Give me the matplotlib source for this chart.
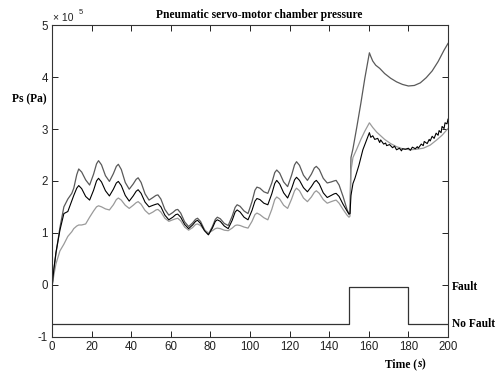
import matplotlib
matplotlib.use("Agg")
import matplotlib.pyplot as plt

# ---- data (pressure in units of 1e5 Pa) ----
t_pre = [0, 1, 2, 4, 6, 8, 10, 11, 12.5, 13.5, 15, 17,
         19, 21, 22.5, 23.5, 25, 27,
         29, 31, 32.5, 33.5, 35, 37,
         39, 41, 42.5, 43.5, 45, 47,
         49, 51, 52.5, 53.5, 55, 57,
         59, 61, 62.5, 63.5, 65, 67,
         69, 71, 72.5, 73.5, 75, 77,
         79, 81, 82.5, 83.5, 85, 87,
         89, 91, 92.5, 93.5, 95, 97,
         99, 101, 102.5, 103.5, 105, 107,
         109, 111, 112.5, 113.5, 115, 117,
         119, 121, 122.5, 123.5, 125, 127,
         129, 131, 132.5, 133.5, 135, 137,
         139, 141, 142.5, 143.5, 145, 147,
         149, 150]

p_top_pre = [-0.05, 0.30, 0.60, 1.10, 1.50, 1.65, 1.76, 1.86, 2.12, 2.23, 2.17, 2.02,
             1.92, 2.13, 2.33, 2.39, 2.31, 2.10,
             1.99, 2.14, 2.28, 2.32, 2.22, 1.97,
             1.84, 1.94, 2.03, 2.06, 1.97, 1.75,
             1.63, 1.68, 1.72, 1.73, 1.65, 1.45,
             1.34, 1.39, 1.44, 1.45, 1.38, 1.21,
             1.12, 1.19, 1.26, 1.28, 1.22, 1.06,
             0.97, 1.12, 1.26, 1.30, 1.27, 1.18,
             1.14, 1.32, 1.49, 1.54, 1.51, 1.42,
             1.37, 1.60, 1.82, 1.88, 1.86, 1.79,
             1.76, 1.96, 2.16, 2.21, 2.15, 1.98,
             1.89, 2.11, 2.31, 2.37, 2.30, 2.11,
             2.01, 2.13, 2.25, 2.28, 2.22, 2.05,
             1.96, 1.98, 2.00, 2.01, 1.92, 1.70,
             1.45, 1.36]

p_blk_pre = [-0.05, 0.32, 0.62, 1.05, 1.37, 1.41, 1.62, 1.72, 1.86, 1.91, 1.85, 1.70,
             1.63, 1.82, 2.00, 2.05, 1.98, 1.81,
             1.71, 1.84, 1.96, 1.99, 1.91, 1.72,
             1.61, 1.71, 1.80, 1.83, 1.76, 1.59,
             1.50, 1.53, 1.55, 1.56, 1.50, 1.34,
             1.25, 1.30, 1.35, 1.36, 1.30, 1.16,
             1.08, 1.15, 1.22, 1.24, 1.18, 1.04,
             0.96, 1.09, 1.22, 1.25, 1.22, 1.13,
             1.08, 1.24, 1.40, 1.44, 1.40, 1.30,
             1.25, 1.43, 1.61, 1.66, 1.64, 1.57,
             1.54, 1.75, 1.95, 2.01, 1.94, 1.77,
             1.67, 1.85, 2.02, 2.07, 2.01, 1.87,
             1.79, 1.89, 1.98, 2.01, 1.94, 1.77,
             1.68, 1.72, 1.75, 1.76, 1.70, 1.55,
             1.42, 1.36]

p_lgt_pre = [-0.05, 0.20, 0.40, 0.65, 0.78, 0.93, 1.02, 1.08, 1.13, 1.15, 1.15, 1.17,
             1.30, 1.42, 1.50, 1.52, 1.50, 1.46,
             1.44, 1.54, 1.64, 1.67, 1.63, 1.53,
             1.47, 1.53, 1.58, 1.60, 1.55, 1.43,
             1.36, 1.40, 1.44, 1.45, 1.40, 1.28,
             1.22, 1.25, 1.27, 1.28, 1.23, 1.11,
             1.05, 1.10, 1.16, 1.17, 1.14, 1.05,
             1.00, 1.04, 1.08, 1.09, 1.08, 1.05,
             1.04, 1.09, 1.14, 1.15, 1.14, 1.11,
             1.09, 1.22, 1.35, 1.38, 1.35, 1.29,
             1.25, 1.45, 1.64, 1.69, 1.65, 1.53,
             1.47, 1.65, 1.81, 1.86, 1.81, 1.67,
             1.60, 1.69, 1.78, 1.81, 1.76, 1.64,
             1.57, 1.60, 1.62, 1.63, 1.57, 1.45,
             1.34, 1.30]

t_top_post = [150.5, 151, 152, 154, 156, 158, 160.3, 161, 162, 163.5, 165.5, 168,
              171, 174, 177, 180, 183, 186, 189, 192, 195, 198, 200]
p_top_post = [1.37, 2.45, 2.62, 3.05, 3.50, 3.98, 4.47, 4.40, 4.31, 4.23, 4.17, 4.07,
              3.98, 3.91, 3.86, 3.83, 3.84, 3.89, 3.99, 4.12, 4.30, 4.52, 4.65]

t_blk_post = [150.5, 151, 152, 153, 155, 157, 159, 160.3, 161, 162, 163, 164.5,
              165.5, 166, 167.5, 168.5, 169, 170.5, 172, 173, 174, 175.5,
              176.5, 177, 178.5, 180, 181, 182, 183.5, 184.5, 185, 186.5,
              187.5, 188, 189.5, 190.5, 191, 192, 193, 194, 195, 195.5,
              196.5, 197, 198, 198.5, 199.5, 200]
p_blk_post = [1.37, 1.72, 1.95, 2.05, 2.30, 2.60, 2.80, 2.93, 2.84, 2.87, 2.80, 2.82,
              2.74, 2.79, 2.71, 2.73, 2.68, 2.70, 2.64, 2.67, 2.60, 2.63,
              2.58, 2.62, 2.61, 2.63, 2.59, 2.65, 2.62, 2.66, 2.63, 2.71,
              2.68, 2.76, 2.72, 2.80, 2.77, 2.86, 2.82, 2.92, 2.88, 2.97,
              2.93, 3.05, 3.01, 3.12, 3.10, 3.19]

t_lgt_post = [150.5, 151, 152, 154, 156, 158, 160.3, 162, 164, 166, 168, 171,
              174, 177, 181, 184, 187.5, 191, 194.3, 197, 200]
p_lgt_post = [1.32, 2.20, 2.45, 2.62, 2.80, 2.96, 3.12, 3.03, 2.94, 2.87, 2.80, 2.72,
              2.66, 2.62, 2.60, 2.61, 2.63, 2.69, 2.79, 2.88, 3.01]

t_fault = [0, 150, 150, 180, 180, 200]
v_fault = [-0.75, -0.75, -0.05, -0.05, -0.75, -0.75]

x_ticks = [0, 20, 40, 60, 80, 100, 120, 140, 160, 180, 200]
y_ticks = [-1, 0, 1, 2, 3, 4, 5]

# ---- figure ----
fig = plt.figure(figsize=(5.02, 3.76), dpi=100)
ax = fig.add_axes([52/502, 1-336.5/376, 396/502, (336.5-25.3)/376])

ax.plot(t_pre + t_top_post, p_top_pre + p_top_post, color='#5a5a5a', lw=0.9)
ax.plot(t_pre + t_lgt_post, p_lgt_pre + p_lgt_post, color='#9a9a9a', lw=0.9)
ax.plot(t_pre + t_blk_post, p_blk_pre + p_blk_post, color='#000000', lw=0.8)
ax.plot(t_fault, v_fault, color='#333333', lw=0.9)

ax.set_xlim(0, 200)
ax.set_ylim(-1, 5)
ax.set_xticks(x_ticks)
ax.set_yticks(y_ticks)
ax.set_xticklabels([str(v) for v in x_ticks])
ax.set_yticklabels([str(v) for v in y_ticks])
ax.tick_params(direction='in', top=True, right=True, length=4, width=0.7,
               labelsize=8.3, colors='#222222', pad=3)
for lab in ax.get_xticklabels() + ax.get_yticklabels():
    lab.set_fontfamily('Liberation Sans')
for sp in ax.spines.values():
    sp.set_color('#333333')
    sp.set_linewidth(0.8)

serif_b = dict(family='Liberation Serif', weight='bold', fontsize=8.3)

fig.text(259.5/502, 1-15/376, 'Pneumatic servo-motor chamber pressure',
         ha='center', va='center', **serif_b)
fig.text(12/502, 1-99/376, 'Ps (Pa)', ha='left', va='center', **serif_b)
fig.text(385/502, 1-364/376, 'Time (', ha='left', va='center', **serif_b)
fig.text(417/502, 1-364/376, 's', ha='left', va='center', style='italic',
         family='Liberation Serif', weight='bold', fontsize=8.3)
fig.text(422/502, 1-364/376, ')', ha='left', va='center', **serif_b)

fig.text(53/502, 1-18/376, '× 10', ha='left', va='center',
         family='Liberation Sans', fontsize=7.5, color='#222222')
fig.text(79/502, 1-12/376, '5', ha='left', va='center',
         family='Liberation Sans', fontsize=5.5, color='#222222')

ax.text(202, -0.05, 'Fault', ha='left', va='center', clip_on=False, **serif_b)
ax.text(202, -0.75, 'No Fault', ha='left', va='center', clip_on=False, **serif_b)

fig.savefig('out.png', dpi=100)
